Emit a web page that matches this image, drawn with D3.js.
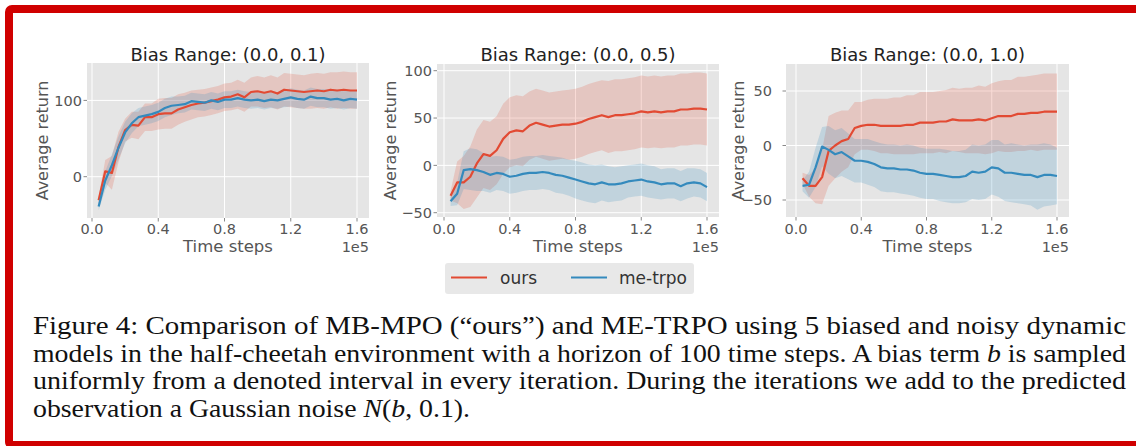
<!DOCTYPE html>
<html>
<head>
<meta charset="utf-8">
<script src="https://cdn.jsdelivr.net/npm/d3@7"></script>
<style>
  body { margin: 0; background: #fff; }
  svg { display: block; }
</style>
</head>
<body>
<svg id="fig" width="1136" height="446"></svg>
<script>
// time steps (x 1e5)
var timeSteps = [0.04, 0.08, 0.12, 0.16, 0.20, 0.24, 0.28, 0.32, 0.36, 0.40,
	0.44, 0.48, 0.52, 0.56, 0.60, 0.64, 0.68, 0.72, 0.76, 0.80,
	0.84, 0.88, 0.92, 0.96, 1.00, 1.04, 1.08, 1.12, 1.16, 1.20,
	1.24, 1.28, 1.32, 1.36, 1.40, 1.44, 1.48, 1.52, 1.56, 1.60];

var titles = ['Bias Range: (0.0, 0.1)', 'Bias Range: (0.0, 0.5)', 'Bias Range: (0.0, 1.0)'];
var seriesNames = ['ours', 'me-trpo'];
var xTicks = [0, 0.4, 0.8, 1.2, 1.6];
var yTicks01 = [0, 100];
var yTicks05 = [-50, 0, 50, 100];
var yTicks10 = [-50, 0, 50];

// bias range (0.0, 0.1)
var ours01 = [-31, 7, 5, 39, 61, 68, 67, 78, 78, 82, 83, 83, 88, 91, 94, 96, 97, 99, 101, 104,
	105, 108, 104, 111, 112, 110, 112, 109, 114, 113, 112, 111, 112, 113, 112, 114, 113, 114, 113, 113];
var ours01Std = [5, 15, 22, 20, 15, 17, 18, 18, 18, 20, 20, 20, 20, 19, 19, 18, 18, 18, 18, 18,
	18, 19, 19, 19, 20, 20, 21, 21, 22, 22, 22, 22, 23, 23, 23, 23, 24, 24, 24, 24];
var meTrpo01 = [-39, -5, 15, 38, 58, 70, 78, 80, 82, 85, 90, 93, 94, 95, 99, 98, 97, 100, 98, 101,
	101, 103, 101, 100, 101, 99, 101, 100, 102, 104, 102, 101, 105, 103, 103, 101, 102, 100, 102, 101];
var meTrpo01Std = [5, 12, 14, 15, 14, 13, 12, 12, 12, 12, 12, 12, 11, 11, 11, 11, 11, 11, 11, 11,
	11, 11, 11, 11, 11, 11, 11, 11, 11, 12, 12, 12, 12, 12, 12, 12, 12, 12, 12, 12];

// bias range (0.0, 0.5)
var ours05 = [-32, -18, -18, -12, 2, 12, 10, 16, 28, 35, 37, 36, 42, 45, 43, 41, 42, 43, 43, 44,
	46, 49, 51, 53, 51, 53, 53, 54, 55, 57, 56, 57, 56, 57, 57, 59, 59, 60, 60, 59];
var ours05Std = [5, 22, 28, 32, 36, 36, 36, 36, 37, 37, 37, 37, 36, 36, 36, 36, 36, 36, 37, 37,
	37, 37, 37, 37, 38, 38, 38, 38, 38, 38, 38, 38, 38, 38, 38, 38, 38, 38, 38, 38];
var meTrpo05 = [-38, -30, -5, -4, -5, -7, -10, -8, -9, -12, -11, -9, -8, -8, -7, -8, -10, -11, -13, -15,
	-17, -19, -20, -18, -20, -20, -19, -17, -16, -15, -17, -18, -20, -19, -19, -22, -19, -18, -19, -23];
var meTrpo05Std = [5, 12, 20, 22, 22, 20, 19, 18, 18, 18, 18, 18, 18, 18, 18, 18, 19, 19, 19, 20,
	20, 20, 20, 19, 19, 18, 18, 17, 17, 17, 17, 17, 16, 16, 16, 16, 16, 15, 15, 15];

// bias range (0.0, 1.0)
var ours10 = [-30, -37, -37, -29, -5, 0, 4, 6, 16, 18, 19, 19, 18, 18, 18, 18, 19, 19, 21, 21,
	21, 22, 22, 24, 23, 23, 23, 24, 23, 25, 27, 27, 27, 29, 29, 30, 30, 31, 31, 31];
var ours10Std = [5, 10, 16, 25, 32, 30, 28, 26, 24, 22, 23, 24, 25, 25, 26, 26, 27, 27, 28, 28,
	28, 28, 29, 29, 29, 30, 30, 31, 31, 32, 32, 33, 33, 34, 34, 34, 35, 35, 35, 35];
var meTrpo10 = [-37, -36, -20, -1, -4, -8, -6, -10, -14, -14, -15, -17, -20, -21, -21, -22, -22, -23, -25, -26,
	-26, -27, -28, -29, -29, -28, -24, -25, -24, -20, -21, -25, -25, -26, -27, -27, -29, -27, -27, -28];
var meTrpo10Std = [5, 12, 18, 18, 22, 22, 22, 21, 20, 20, 21, 21, 22, 22, 22, 22, 23, 23, 23, 23,
	23, 24, 24, 24, 24, 24, 25, 25, 25, 25, 26, 26, 27, 27, 27, 28, 30, 29, 28, 26];

var colors = ['#E24A33', '#348ABD'];

var panels = [
	{ title: titles[0], series: [[ours01, ours01Std], [meTrpo01, meTrpo01Std]], yTicks: yTicks01,
	  left: 87, right: 369, top: 63, bottom: 218, x0: 92, x1: 357, yVals: [0, 100], yPx: [176.7, 100.4],
	  tickRight: 82, labelX: 42.5 },
	{ title: titles[1], series: [[ours05, ours05Std], [meTrpo05, meTrpo05Std]], yTicks: yTicks05,
	  left: 437, right: 719, top: 64, bottom: 217, x0: 444, x1: 707, yVals: [-50, 100], yPx: [212.7, 70.7],
	  tickRight: 432, labelX: 390 },
	{ title: titles[2], series: [[ours10, ours10Std], [meTrpo10, meTrpo10Std]], yTicks: yTicks10,
	  left: 786, right: 1069, top: 64, bottom: 217, x0: 796, x1: 1057, yVals: [-50, 50], yPx: [200, 91],
	  tickRight: 772, labelX: 738 }
];

var svg = d3.select('#fig');
var sans = 'DejaVu Sans, sans-serif';

panels.forEach(function(p, i) { drawPanel(p, i); });
drawLegend();
drawCaption();
drawBorder();

function drawPanel(p, i) {
	var x = d3.scaleLinear().domain([0, 1.6]).range([p.x0, p.x1]);
	var y = d3.scaleLinear().domain(p.yVals).range(p.yPx);
	var g = svg.append('g');

	g.append('rect')
		.attr('x', p.left).attr('y', p.top)
		.attr('width', p.right - p.left).attr('height', p.bottom - p.top)
		.attr('fill', '#E5E5E5');

	g.append('clipPath').attr('id', 'clip' + i)
		.append('rect')
		.attr('x', p.left).attr('y', p.top)
		.attr('width', p.right - p.left).attr('height', p.bottom - p.top);

	// grid + small outside ticks
	g.selectAll('.vgrid').data(xTicks).enter().append('line')
		.attr('x1', function(d){ return x(d); }).attr('x2', function(d){ return x(d); })
		.attr('y1', p.top).attr('y2', p.bottom)
		.attr('stroke', '#fff').attr('stroke-width', 1);
	g.selectAll('.hgrid').data(p.yTicks).enter().append('line')
		.attr('x1', p.left).attr('x2', p.right)
		.attr('y1', function(d){ return y(d); }).attr('y2', function(d){ return y(d); })
		.attr('stroke', '#fff').attr('stroke-width', 1);
	g.selectAll('.xtick').data(xTicks).enter().append('line')
		.attr('x1', function(d){ return x(d); }).attr('x2', function(d){ return x(d); })
		.attr('y1', p.bottom).attr('y2', p.bottom + 3.5)
		.attr('stroke', '#888').attr('stroke-width', 1);
	g.selectAll('.ytick').data(p.yTicks).enter().append('line')
		.attr('x1', p.left - 3.5).attr('x2', p.left)
		.attr('y1', function(d){ return y(d); }).attr('y2', function(d){ return y(d); })
		.attr('stroke', '#888').attr('stroke-width', 1);

	var plot = g.append('g').attr('clip-path', 'url(#clip' + i + ')');

	p.series.forEach(function(s, k) {
		var rows = timeSteps.map(function(t, j) {
			return { t: t, m: s[0][j], sd: s[1][j] };
		});
		var area = d3.area()
			.x(function(d){ return x(d.t); })
			.y0(function(d){ return y(d.m - d.sd); })
			.y1(function(d){ return y(d.m + d.sd); });
		plot.append('path').datum(rows)
			.attr('d', area)
			.attr('fill', colors[k]).attr('fill-opacity', 0.2);
	});
	p.series.forEach(function(s, k) {
		var rows = timeSteps.map(function(t, j) { return { t: t, m: s[0][j] }; });
		var line = d3.line()
			.x(function(d){ return x(d.t); })
			.y(function(d){ return y(d.m); });
		plot.append('path').datum(rows)
			.attr('d', line)
			.attr('fill', 'none')
			.attr('stroke', colors[k]).attr('stroke-width', 2.2)
			.attr('stroke-linejoin', 'round');
	});

	// tick labels
	g.selectAll('.xt').data(xTicks).enter().append('text')
		.attr('x', function(d){ return x(d); }).attr('y', 233.5)
		.attr('text-anchor', 'middle')
		.attr('font-family', sans).attr('font-size', 14.5).attr('fill', '#555')
		.text(d3.format('.1f'));
	g.selectAll('.yt').data(p.yTicks).enter().append('text')
		.attr('x', p.tickRight).attr('y', function(d){ return y(d); })
		.attr('dy', '0.36em')
		.attr('text-anchor', 'end')
		.attr('font-family', sans).attr('font-size', 14.5).attr('fill', '#555')
		.text(d3.format('d'));

	g.append('text')
		.attr('x', (p.left + p.right) / 2).attr('y', 252)
		.attr('text-anchor', 'middle')
		.attr('font-family', sans).attr('font-size', 16.5).attr('fill', '#555')
		.text('Time steps');
	g.append('text')
		.attr('x', p.right).attr('y', 252)
		.attr('text-anchor', 'end')
		.attr('font-family', sans).attr('font-size', 14.5).attr('fill', '#555')
		.text('1e5');
	g.append('text')
		.attr('transform', 'translate(' + p.labelX + ',' + ((p.top + p.bottom) / 2) + ') rotate(-90)')
		.attr('dy', '0.36em')
		.attr('text-anchor', 'middle')
		.attr('font-family', sans).attr('font-size', 16).attr('fill', '#555')
		.text('Average return');
	g.append('text')
		.attr('x', (p.left + p.right) / 2).attr('y', 61)
		.attr('text-anchor', 'middle')
		.attr('font-family', sans).attr('font-size', 18).attr('fill', '#222')
		.text(p.title);
}

function drawLegend() {
	var g = svg.append('g');
	g.append('rect')
		.attr('x', 445).attr('y', 263).attr('width', 249).attr('height', 31)
		.attr('rx', 3).attr('fill', '#E8E8E8');
	var items = [{ x: 451, tx: 500 }, { x: 571, tx: 619 }];
	items.forEach(function(it, k) {
		g.append('line')
			.attr('x1', it.x).attr('x2', it.x + 36)
			.attr('y1', 277.5).attr('y2', 277.5)
			.attr('stroke', colors[k]).attr('stroke-width', 2.2);
		g.append('text')
			.attr('x', it.tx).attr('y', 283.5)
			.attr('font-family', sans).attr('font-size', 17).attr('fill', '#333')
			.text(seriesNames[k]);
	});
}

function drawCaption() {
	var serif = 'Liberation Serif, Times New Roman, serif';
	var g = svg.append('g')
		.attr('font-family', serif).attr('font-size', 25).attr('fill', '#111');
	var l1 = g.append('text').attr('x', 33).attr('y', 334)
		.attr('textLength', 1093).attr('lengthAdjust', 'spacingAndGlyphs');
	l1.text('Figure 4:  Comparison of MB-MPO (\u201Cours\u201D) and ME-TRPO using 5 biased and noisy dynamic');

	var l2 = g.append('text').attr('x', 33).attr('y', 362)
		.attr('textLength', 1093).attr('lengthAdjust', 'spacingAndGlyphs');
	l2.append('tspan').text('models in the half-cheetah environment with a horizon of 100 time steps. A bias term ');
	l2.append('tspan').attr('font-style', 'italic').text('b');
	l2.append('tspan').text(' is sampled');

	g.append('text').attr('x', 33).attr('y', 389)
		.attr('textLength', 1093).attr('lengthAdjust', 'spacingAndGlyphs')
		.text('uniformly from a denoted interval in every iteration. During the iterations we add to the predicted');

	var l4 = g.append('text').attr('x', 33).attr('y', 417)
		.attr('textLength', 437).attr('lengthAdjust', 'spacingAndGlyphs');
	l4.append('tspan').text('observation a Gaussian noise ');
	l4.append('tspan').attr('font-style', 'italic').text('N');
	l4.append('tspan').text('(');
	l4.append('tspan').attr('font-style', 'italic').text('b');
	l4.append('tspan').text(', 0.1).');
}

function drawBorder() {
	svg.append('rect')
		.attr('x', 9).attr('y', 9).attr('width', 1150).attr('height', 436)
		.attr('rx', 3)
		.attr('fill', 'none').attr('stroke', '#D00000').attr('stroke-width', 8);
}
</script>
</body>
</html>
